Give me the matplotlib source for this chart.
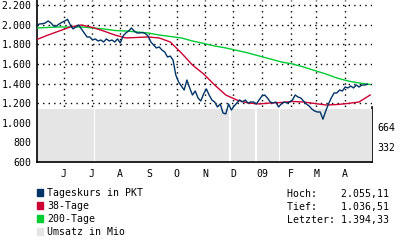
import matplotlib
matplotlib.use("Agg")
import matplotlib.pyplot as plt
from matplotlib.patches import Patch
import pandas as pd

kurs_start = "2008-05-03"
kurs = [1997, 2008, 2010, 2018, 2038, 2018, 1987, 1987, 2008, 2025,
        2038, 2055.11, 1997, 1957, 1977, 1997, 1957, 1916, 1875, 1875,
        1844, 1855, 1834, 1844, 1824, 1855, 1834, 1844, 1824, 1855,
        1814, 1885, 1916, 1936, 1967, 1936, 1916, 1916, 1920, 1910,
        1885, 1824, 1793, 1763, 1773, 1742, 1722, 1671, 1680, 1640,
        1487, 1416, 1375, 1334, 1436, 1355, 1283, 1324, 1253, 1222,
        1294, 1345, 1283, 1232, 1212, 1161, 1192, 1100, 1090, 1192,
        1130, 1171, 1202, 1232, 1212, 1232, 1202, 1212, 1212, 1192,
        1232, 1273, 1283, 1253, 1212, 1202, 1212, 1161, 1192, 1212,
        1202, 1212, 1232, 1283, 1263, 1253, 1222, 1192, 1171, 1140,
        1120, 1110, 1110, 1036.51, 1120, 1192, 1253, 1304, 1304, 1334,
        1324, 1365, 1355, 1375, 1355, 1385, 1365, 1385, 1385, 1394.33]

gd38 = [1850, 1895, 1936, 1977, 1997, 1972, 1936, 1895, 1865, 1870,
        1875, 1865, 1824, 1712, 1589, 1498, 1385, 1283, 1232, 1202,
        1192, 1202, 1207, 1217, 1212, 1197, 1181, 1186, 1197, 1212, 1283]
gd200 = [1967, 1972, 1977, 1977, 1977, 1967, 1957, 1941, 1936, 1926,
         1916, 1895, 1880, 1865, 1834, 1809, 1783, 1763, 1738, 1712,
         1681, 1651, 1620, 1600, 1569, 1533, 1498, 1457, 1426, 1406, 1390]

# Umsatz: Block mit Luecken an Feiertagen
umsatz_mio = 963
umsatz_ende = "2009-04-29"
umsatz_luecken = ["2008-07-04", "2008-11-27", "2008-12-25", "2009-01-19"]

monate = ["2008-06-01", "2008-07-01", "2008-08-01", "2008-09-01", "2008-10-01",
          "2008-11-01", "2008-12-01", "2009-01-01", "2009-02-01", "2009-03-01",
          "2009-04-01"]
monat_labels = ["J", "J", "A", "S", "O", "N", "D", "09", "F", "M", "A"]

kurs_y_ticks = [600, 800, 1000, 1200, 1400, 1600, 1800, 2000, 2200]
umsatz_ticks = [332, 664]

blau, rot, gruen, grau = "#003366", "#cc0033", "#00cc33", "#e5e5e5"
punkte = (0, (1, 3))

plt.rcParams["font.family"] = ["DejaVu Sans Mono"]
plt.rcParams["font.size"] = 7.1

t_kurs = pd.date_range(kurs_start, periods=len(kurs), freq="3D")
t_gd = pd.date_range(kurs_start, periods=len(gd38), freq="12D")

fig = plt.figure(figsize=(4, 2.4), dpi=100)
ax = fig.add_axes([37/400, 1 - 162/240, 335/400, 162/240])
ax2 = ax.twinx()
ax2.set_zorder(ax.get_zorder() - 1)
ax.set_zorder(1)
ax.patch.set_visible(False)

xmin = pd.Timestamp(kurs_start)
xmax = pd.Timestamp(umsatz_ende) + pd.Timedelta(days=1)
ax.set_xlim(xmin, xmax)
ax.set_ylim(600, 2252)
ax2.set_ylim(83, 2772)

# volume block on the price axes, in volume units via ax2's transform
grenzen = [xmin] + [pd.Timestamp(d) + pd.Timedelta(days=1.2) for d in umsatz_luecken]
enden = [pd.Timestamp(d) for d in umsatz_luecken] + [xmax]
for a, e in zip(grenzen, enden):
    ax.bar(a, umsatz_mio, width=(e - a) / pd.Timedelta(days=1), align="edge",
           color=grau, linewidth=0, zorder=1, transform=ax2.transData)

ax2.set_yticks(umsatz_ticks)
ax2.tick_params(length=0, pad=4)
for s in ["top", "left", "bottom"]:
    ax2.spines[s].set_visible(False)
ax2.spines["right"].set_bounds(83, 1000)
ax2.spines["right"].set_linewidth(1.2)

ax.plot(t_gd, gd200, color=gruen, lw=1.0, zorder=3)
ax.plot(t_gd, gd38, color=rot, lw=1.0, zorder=4)
ax.plot(t_kurs, kurs, color=blau, lw=1.0, zorder=5)

ax.set_xlim(xmin, xmax)
ax.set_ylim(600, 2252)
ax.set_yticks(kurs_y_ticks)
ax.set_yticklabels([f"{v:,}".replace(",", ".") for v in kurs_y_ticks])
ax.set_xticks(pd.to_datetime(monate))
ax.set_xticklabels(monat_labels)
ax.tick_params(length=0, pad=5)
ax.tick_params(axis="y", pad=4)
ax.set_axisbelow(True)
ax.grid(True, axis="x", color="black", linestyle=punkte, linewidth=1)
# horizontal dotted lines only above the volume block
ax.hlines([v for v in kurs_y_ticks if v >= 1200], xmin, xmax,
          colors="black", linestyles=punkte, linewidth=1, zorder=0.5)
for s in ["top", "right"]:
    ax.spines[s].set_visible(False)
ax.spines["left"].set_linewidth(1.2)
ax.spines["bottom"].set_linewidth(1.2)

handles = [Patch(color=blau), Patch(color=rot), Patch(color=gruen), Patch(color=grau)]
labels = ["Tageskurs in PKT", "38-Tage", "200-Tage", "Umsatz in Mio"]
fig.legend(handles, labels, loc="upper left", bbox_to_anchor=(35/400, 1 - 186/240),
           frameon=False, handlelength=0.6, handleheight=0.6, handletextpad=0.4,
           labelspacing=0.3, borderpad=0.2, borderaxespad=0)

hoch, tief, letzter = max(kurs), min(kurs), kurs[-1]


def de(v):
    return f"{v:,.2f}".replace(",", "X").replace(".", ",").replace("X", ".")


stats = [("Hoch:", hoch), ("Tief:", tief), ("Letzter:", letzter)]
for i, (k, v) in enumerate(stats):
    fig.text(287/400, 1 - (194 + 13*i)/240, f"{k:<9}{de(v)}", va="center", ha="left")

fig.savefig("out.png", dpi=100)
